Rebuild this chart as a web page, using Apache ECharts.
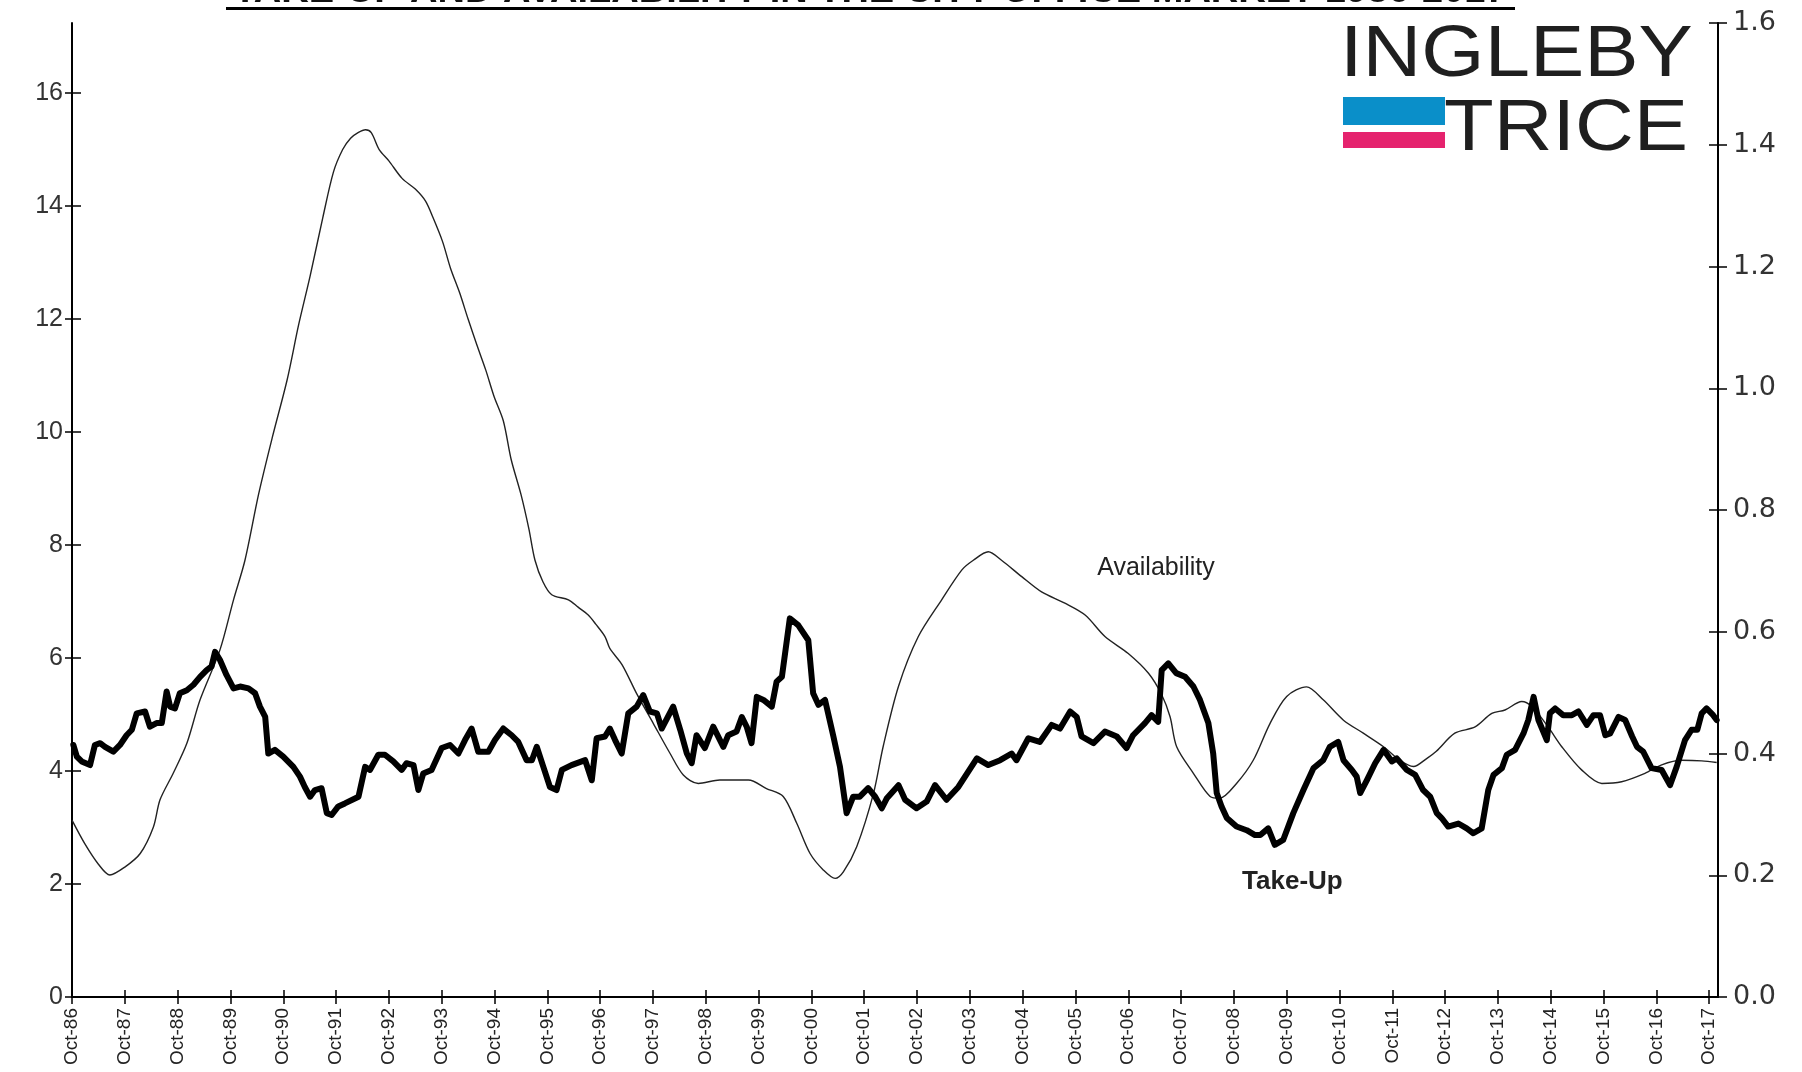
<!DOCTYPE html>
<html>
<head>
<meta charset="utf-8">
<script src="https://cdn.jsdelivr.net/npm/echarts@6/dist/echarts.min.js"></script>
<style>html,body{margin:0;padding:0;background:#fff}#c{width:1802px;height:1072px}</style>
</head>
<body>
<div id="c"></div>
<script>
// month index 0 = Oct-86
const titleText = 'TAKE-UP AND AVAILABILITY IN THE CITY OFFICE MARKET 1986-2017';
const yearLabels = ['86','87','88','89','90','91','92','93','94','95','96','97','98','99','00','01','02','03','04','05','06','07','08','09','10','11','12','13','14','15','16','17'];
const leftTicks = [0,2,4,6,8,10,12,14,16];

// Availability (left axis), [month index, value]
const availability = [[0,3.13],[3,2.7],[6,2.35],[8.6,2.16],[12,2.3],[15.5,2.54],[18.5,3.01],[20,3.49],[23,3.96],[26.1,4.49],[29.1,5.26],[33.6,6.14],[36.7,7.03],[39.3,7.73],[42.4,8.9],[45.5,9.9],[48.9,10.93],[51.5,11.9],[54.1,12.76],[57,13.8],[59.4,14.6],[61.5,15.0],[63.3,15.2],[65,15.3],[66.7,15.35],[68,15.3],[69.8,15.0],[72,14.8],[75,14.49],[78,14.3],[80.3,14.09],[82,13.8],[84.2,13.37],[86,12.9],[88.1,12.46],[90,12.0],[92,11.54],[94,11.1],[95.9,10.63],[98,10.2],[99.8,9.51],[102,8.9],[103.8,8.29],[105.2,7.73],[107,7.35],[109,7.12],[112.8,7.03],[115,6.9],[117.3,6.76],[119,6.6],[121.1,6.38],[122.2,6.17],[125,5.88],[128.3,5.37],[132.1,4.84],[135.9,4.31],[138.9,3.93],[142.3,3.78],[147.2,3.84],[153.7,3.84],[157.8,3.69],[161.6,3.55],[164.7,3.07],[167.7,2.54],[170.7,2.25],[173.4,2.10],[175.3,2.22],[178.3,2.66],[182.1,3.60],[184.3,4.43],[187.8,5.5],[192.3,6.38],[197.6,7.03],[202.2,7.56],[204.8,7.73],[208.2,7.88],[211.2,7.73],[215.8,7.44],[220.3,7.17],[225.6,6.97],[230.2,6.76],[234.7,6.38],[240,6.08],[244.6,5.73],[247.6,5.35],[249.5,4.96],[251,4.43],[254.8,3.96],[258.6,3.55],[260.8,3.52],[264.6,3.78],[268.4,4.19],[272.2,4.84],[276,5.32],[280.5,5.49],[284.3,5.26],[288.9,4.90],[293.4,4.67],[298,4.43],[301.7,4.19],[304.8,4.08],[307.8,4.22],[310,4.35],[314.2,4.67],[318.8,4.78],[322.6,5.02],[325.6,5.08],[329.4,5.23],[331.7,5.14],[335.4,4.78],[338.5,4.43],[343,4.02],[347.6,3.78],[352.1,3.81],[357.4,3.96],[361.2,4.11],[365.7,4.19],[370.3,4.18],[373.7,4.15]];

// Take-Up (right axis), [month index, value]
const takeUp = [[0.3,0.414],[1.1,0.395],[2.2,0.387],[4.1,0.381],[5.2,0.414],[6.4,0.417],[7.5,0.411],[9.4,0.403],[10.9,0.414],[12.4,0.430],[13.6,0.439],[14.7,0.466],[16.6,0.469],[17.7,0.444],[19.2,0.450],[20.4,0.450],[21.5,0.502],[22.3,0.477],[23.4,0.474],[24.5,0.499],[26.1,0.504],[27.6,0.513],[29.1,0.526],[30.6,0.537],[31.7,0.543],[32.5,0.567],[33.6,0.554],[35.1,0.529],[36.7,0.507],[38.2,0.510],[40.1,0.507],[41.6,0.499],[42.7,0.477],[43.9,0.460],[44.6,0.400],[46.1,0.406],[48.0,0.395],[50.3,0.378],[51.8,0.362],[52.9,0.345],[54.1,0.329],[55.2,0.340],[56.7,0.343],[57.9,0.302],[59.0,0.299],[60.5,0.313],[62.0,0.318],[65.1,0.329],[66.6,0.378],[67.7,0.373],[69.6,0.398],[71.1,0.398],[73,0.387],[74.9,0.373],[76,0.384],[77.6,0.381],[78.7,0.340],[79.8,0.367],[81.7,0.373],[84,0.409],[85.9,0.414],[87.8,0.400],[89.3,0.422],[90.8,0.441],[92.3,0.403],[94.6,0.403],[96.1,0.422],[98,0.441],[99.9,0.430],[101.4,0.419],[103.3,0.389],[104.5,0.389],[105.6,0.411],[107.1,0.378],[108.6,0.345],[110.1,0.340],[111.3,0.373],[113.5,0.381],[116.6,0.389],[118.1,0.356],[119.2,0.425],[121.1,0.428],[122.2,0.441],[123.4,0.422],[124.9,0.400],[126.4,0.466],[128.3,0.477],[129.8,0.496],[131.3,0.469],[132.9,0.466],[134,0.441],[136.6,0.477],[138.2,0.439],[139.7,0.400],[140.8,0.384],[141.9,0.430],[143.8,0.409],[145.7,0.444],[148,0.411],[149.1,0.430],[151,0.436],[152.2,0.460],[153.3,0.444],[154.4,0.417],[155.6,0.493],[157.1,0.488],[159,0.477],[160.1,0.518],[161.3,0.526],[163.1,0.622],[165,0.611],[167.3,0.586],[168.4,0.499],[169.6,0.480],[171.1,0.488],[173,0.428],[174.5,0.378],[176,0.302],[177.5,0.329],[179,0.329],[180.9,0.343],[182.5,0.329],[184,0.310],[185.1,0.326],[187.8,0.348],[189.3,0.324],[191.9,0.310],[194.2,0.321],[196.1,0.348],[198.7,0.324],[201.4,0.345],[205.6,0.392],[208.2,0.381],[210.9,0.389],[213.5,0.400],[214.6,0.389],[217.3,0.425],[219.9,0.419],[222.6,0.447],[224.5,0.441],[226.8,0.469],[228.3,0.460],[229.4,0.428],[232.1,0.417],[234.7,0.436],[237.4,0.428],[239.6,0.409],[241.1,0.430],[243.8,0.450],[245.3,0.463],[246.8,0.452],[247.6,0.537],[249.1,0.548],[250.9,0.532],[252.9,0.526],[254.8,0.510],[256.3,0.488],[258.2,0.450],[259.3,0.400],[260.1,0.335],[261.2,0.313],[262.4,0.294],[264.6,0.280],[266.9,0.274],[268.8,0.266],[270,0.266],[271.8,0.277],[273.3,0.250],[275.2,0.258],[277.5,0.302],[279.8,0.340],[282.1,0.376],[284.3,0.389],[285.8,0.411],[287.7,0.419],[288.9,0.389],[290.8,0.373],[291.9,0.362],[292.7,0.335],[294.2,0.356],[296.1,0.384],[298,0.406],[299.9,0.387],[301,0.392],[303.3,0.373],[305.2,0.365],[307,0.340],[308.6,0.329],[310.1,0.302],[311.2,0.294],[312.7,0.280],[315,0.285],[316.9,0.277],[318.4,0.269],[320.3,0.277],[321.8,0.340],[323,0.365],[324.9,0.376],[326,0.398],[327.9,0.406],[329.8,0.433],[330.9,0.455],[332.1,0.493],[333.2,0.455],[335.1,0.422],[335.8,0.466],[337,0.474],[338.8,0.463],[340.8,0.463],[342.3,0.469],[344.2,0.447],[345.7,0.463],[347.2,0.463],[348.4,0.430],[349.5,0.433],[351.4,0.460],[352.9,0.455],[354.5,0.428],[355.6,0.411],[357,0.403],[358.9,0.376],[361.2,0.373],[363.1,0.348],[364.6,0.378],[366.5,0.422],[368,0.439],[369.3,0.439],[370.3,0.466],[371.4,0.474],[372.9,0.463],[373.7,0.455]];

const xTickValues = yearLabels.map((y, i) => i * 12);
const FONT = 'Liberation Sans, Arial, sans-serif';
const axisStyle = { color: '#000', width: 2 };
const tickStyle = { color: '#000', width: 1.5 };
const gridBox = { left: 72, right: 84, top: 23, bottom: 75, containLabel: false };

const chart = echarts.init(document.getElementById('c'), null, { renderer: 'canvas' });
chart.setOption({
  animation: false,
  backgroundColor: '#fff',
  grid: [ Object.assign({}, gridBox), Object.assign({}, gridBox) ],
  xAxis: [
    { gridIndex: 0, type: 'value', min: 0, max: 374, position: 'bottom',
      axisLine: { show: true, lineStyle: axisStyle },
      axisTick: { show: true, length: 7, lineStyle: tickStyle, customValues: xTickValues },
      axisLabel: { show: true, rotate: 90, margin: 11, fontFamily: FONT, fontSize: 19, color: '#222',
        customValues: xTickValues,
        formatter: v => 'Oct-' + yearLabels[Math.round(v / 12)] },
      splitLine: { show: false } },
    { gridIndex: 1, type: 'value', min: 0, max: 374, position: 'bottom',
      axisLine: { show: false },
      axisTick: { show: true, inside: true, length: 7, lineStyle: tickStyle, customValues: xTickValues },
      axisLabel: { show: false }, splitLine: { show: false } }
  ],
  yAxis: [
    { gridIndex: 0, type: 'value', min: 0, max: 17.24, position: 'left',
      axisLine: { show: true, lineStyle: axisStyle },
      axisTick: { show: true, length: 7, lineStyle: tickStyle, customValues: leftTicks },
      axisLabel: { show: true, margin: 9, fontFamily: FONT, fontSize: 25, color: '#333', customValues: leftTicks },
      splitLine: { show: false } },
    { gridIndex: 0, type: 'value', min: 0, max: 1.6, interval: 0.2, position: 'right',
      axisLine: { show: true, lineStyle: axisStyle },
      axisTick: { show: true, length: 9, lineStyle: tickStyle },
      axisLabel: { show: true, margin: 15, fontFamily: 'DejaVu Sans, Liberation Sans, sans-serif', fontSize: 27, color: '#333', formatter: v => v.toFixed(1) },
      splitLine: { show: false } },
    { gridIndex: 1, type: 'value', min: 0, max: 17.24, position: 'left',
      axisLine: { show: false },
      axisTick: { show: true, inside: true, length: 9, lineStyle: tickStyle, customValues: leftTicks },
      axisLabel: { show: false }, splitLine: { show: false } },
    { gridIndex: 1, type: 'value', min: 0, max: 1.6, interval: 0.2, position: 'right',
      axisLine: { show: false },
      axisTick: { show: true, inside: true, length: 9, lineStyle: tickStyle },
      axisLabel: { show: false }, splitLine: { show: false } }
  ],
  series: [
    { name: 'Availability', type: 'line', xAxisIndex: 0, yAxisIndex: 0, data: availability,
      showSymbol: false, smooth: 0.3, lineStyle: { color: '#222', width: 1.4 },
      markPoint: { symbolSize: 0, silent: true,
        data: [{ coord: [246.3, 7.59], value: 'Availability' }],
        label: { show: true, position: 'inside', formatter: 'Availability', fontFamily: FONT, fontSize: 25, color: '#222' } } },
    { name: 'Take-Up', type: 'line', xAxisIndex: 0, yAxisIndex: 1, data: takeUp,
      showSymbol: false, lineStyle: { color: '#000', width: 6, join: 'round', cap: 'round' },
      markPoint: { symbolSize: 0, silent: true,
        data: [{ coord: [277.3, 0.19], value: 'Take-Up' }],
        label: { show: true, position: 'inside', formatter: 'Take-Up', fontFamily: FONT, fontSize: 26, fontWeight: 'bold', color: '#222' } } }
  ],
  graphic: [
    { type: 'text', x: 870, y: -27, style: { text: titleText, fontFamily: FONT, fontSize: 38, fontWeight: 'bold', fill: '#111', align: 'center' } },
    { type: 'rect', shape: { x: 226, y: 7, width: 1289, height: 3 }, style: { fill: '#000' } },
    { type: 'text', x: 1340, y: 20, scaleX: 1.13, style: { text: 'INGLEBY', fontFamily: FONT, fontSize: 72, fill: '#1f1f1f', stroke: '#fff', lineWidth: 1.6 } },
    { type: 'text', x: 1444, y: 94, scaleX: 1.13, style: { text: 'TRICE', fontFamily: FONT, fontSize: 72, fill: '#1f1f1f', stroke: '#fff', lineWidth: 1.6 } },
    { type: 'rect', shape: { x: 1343, y: 97, width: 102, height: 28 }, style: { fill: '#0a8fc9' } },
    { type: 'rect', shape: { x: 1343, y: 132, width: 102, height: 16 }, style: { fill: '#e5236e' } }
  ]
});
</script>
</body>
</html>
